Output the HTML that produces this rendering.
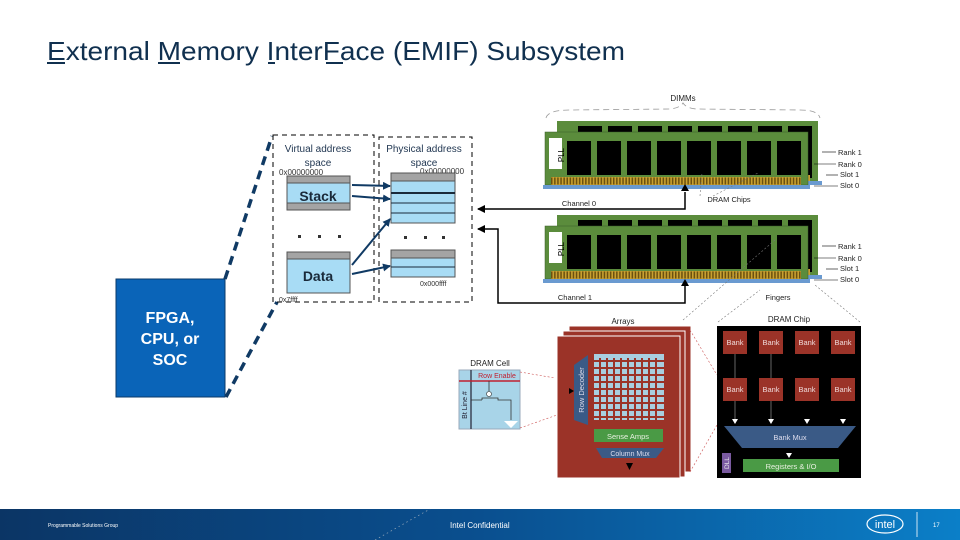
<!DOCTYPE html>
<html><head><meta charset="utf-8"><style>
html,body{margin:0;padding:0;background:#fff}
svg{display:block}
text{font-family:"Liberation Sans",sans-serif}
</style></head><body>
<svg width="960" height="540" viewBox="0 0 960 540" xmlns="http://www.w3.org/2000/svg">
<defs>
<linearGradient id="ft" x1="0" x2="1" y1="0" y2="0">
<stop offset="0" stop-color="#0b3565"/><stop offset="0.5" stop-color="#0a4f8f"/><stop offset="1" stop-color="#0b7fc8"/>
</linearGradient>
<marker id="ah" markerWidth="8" markerHeight="8" refX="7" refY="4" orient="auto" markerUnits="userSpaceOnUse"><path d="M0,0 L8,4 L0,8z" fill="#000"/></marker>
<marker id="ab" markerWidth="8" markerHeight="8" refX="7" refY="4" orient="auto" markerUnits="userSpaceOnUse"><path d="M0,0 L8,4 L0,8z" fill="#103a64"/></marker>
</defs>
<!-- title -->
<text x="47" y="60" font-size="26" fill="#10304f" textLength="578" lengthAdjust="spacingAndGlyphs">External Memory InterFace (EMIF) Subsystem</text>
<g stroke="#10304f" stroke-width="2"><line x1="47" y1="63" x2="65" y2="63"/><line x1="158" y1="63" x2="180" y2="63"/><line x1="268" y1="63" x2="275" y2="63"/><line x1="326" y1="63" x2="343" y2="63"/></g>

<!-- FPGA -->
<rect x="116" y="279" width="109" height="118" fill="#0a64b8" stroke="#0a3a6a"/>
<text x="170" y="323" font-size="16" font-weight="bold" fill="#fff" text-anchor="middle">FPGA,</text>
<text x="170" y="344" font-size="16" font-weight="bold" fill="#fff" text-anchor="middle">CPU, or</text>
<text x="170" y="365" font-size="16" font-weight="bold" fill="#fff" text-anchor="middle">SOC</text>
<g stroke="#103a64" stroke-width="3.5" stroke-dasharray="9,6"><line x1="225" y1="279" x2="272" y2="136"/><line x1="226" y1="397" x2="277" y2="302"/></g>

<!-- address spaces -->
<rect x="273" y="135" width="101" height="167" fill="none" stroke="#000" stroke-dasharray="5,4"/>
<rect x="379" y="137" width="93" height="165" fill="none" stroke="#000" stroke-dasharray="5,4"/>
<text x="318" y="152" font-size="10" fill="#1f3550" text-anchor="middle">Virtual address</text>
<text x="318" y="166" font-size="10" fill="#1f3550" text-anchor="middle">space</text>
<text x="424" y="152" font-size="10" fill="#1f3550" text-anchor="middle">Physical address</text>
<text x="424" y="166" font-size="10" fill="#1f3550" text-anchor="middle">space</text>
<text x="279" y="175" font-size="8" fill="#333">0x00000000</text>
<text x="420" y="174" font-size="8" fill="#333">0x00000000</text>
<text x="420" y="286" font-size="7" fill="#333">0x000ffff</text>
<text x="279" y="302" font-size="7" fill="#333">0x7ffff</text>
<rect x="287" y="176" width="63" height="34" fill="#a8dcf5" stroke="#555"/>
<rect x="287" y="176" width="63" height="7" fill="#a4a4a4" stroke="#555"/>
<rect x="287" y="203" width="63" height="7" fill="#a4a4a4" stroke="#555"/>
<text x="318" y="201" font-size="14" font-weight="bold" fill="#1a2a3a" text-anchor="middle">Stack</text>
<rect x="287" y="252" width="63" height="41" fill="#a8dcf5" stroke="#555"/>
<rect x="287" y="252" width="63" height="7" fill="#a4a4a4" stroke="#555"/>
<text x="318" y="281" font-size="14" font-weight="bold" fill="#1a2a3a" text-anchor="middle">Data</text>
<g fill="#333"><rect x="298" y="235" width="3" height="3"/><rect x="318" y="235" width="3" height="3"/><rect x="338" y="235" width="3" height="3"/><rect x="404" y="236" width="3" height="3"/><rect x="424" y="236" width="3" height="3"/><rect x="442" y="236" width="3" height="3"/></g>
<rect x="391" y="173" width="64" height="50" fill="#a8dcf5" stroke="#555"/>
<rect x="391" y="173" width="64" height="8" fill="#a4a4a4" stroke="#555"/>
<g stroke="#1a2a3a"><line x1="391" y1="193" x2="455" y2="193" stroke-width="2"/><line x1="391" y1="203" x2="455" y2="203"/><line x1="391" y1="213" x2="455" y2="213"/></g>
<rect x="391" y="250" width="64" height="27" fill="#a8dcf5" stroke="#555"/>
<rect x="391" y="250" width="64" height="8" fill="#a4a4a4" stroke="#555"/>
<line x1="391" y1="267" x2="455" y2="267" stroke="#1a2a3a"/>
<g stroke="#103a64" stroke-width="2" marker-end="url(#ab)"><line x1="352" y1="185" x2="390" y2="186"/><line x1="352" y1="196" x2="390" y2="199"/><line x1="352" y1="265" x2="390" y2="219"/><line x1="352" y1="274" x2="390" y2="266"/></g>

<!-- DIMMs -->
<text x="683" y="101" font-size="8" fill="#222" text-anchor="middle">DIMMs</text>
<path d="M546,118 Q548,110 570,110 L670,109 Q680,108 683,103 Q686,108 696,109 L800,110 Q818,110 820,118" fill="none" stroke="#999" stroke-dasharray="6,4" stroke-width="0.8"/>
<g id="dimm">
<rect x="557" y="121" width="261" height="60" fill="#5b8c3c"/>
<g fill="#000"><rect x="578" y="126" width="24" height="6"/><rect x="608" y="126" width="24" height="6"/><rect x="638" y="126" width="24" height="6"/><rect x="668" y="126" width="24" height="6"/><rect x="698" y="126" width="24" height="6"/><rect x="728" y="126" width="24" height="6"/><rect x="758" y="126" width="24" height="6"/><rect x="788" y="126" width="24" height="52"/></g>
<rect x="800" y="175" width="10" height="9" fill="#c8a030"/>
<rect x="808" y="181" width="14" height="4" fill="#6a9ad0"/>
<rect x="545" y="132" width="263" height="53" fill="#5b8c3c" stroke="#3a5a28" stroke-width="0.5"/>
<rect x="549" y="138" width="13" height="31" fill="#fff"/>
<text x="559" y="160" font-size="8" fill="#000" transform="rotate(-90 559 155)" text-anchor="middle">PLL</text>
<g fill="#000"><rect x="567" y="141" width="24" height="34"/><rect x="597" y="141" width="24" height="34"/><rect x="627" y="141" width="24" height="34"/><rect x="657" y="141" width="24" height="34"/><rect x="687" y="141" width="24" height="34"/><rect x="717" y="141" width="24" height="34"/><rect x="747" y="141" width="24" height="34"/><rect x="777" y="141" width="24" height="34"/></g>
<rect x="551" y="177" width="250" height="8" fill="#c8a030"/>
<g stroke="#6b5010" stroke-width="1.1" stroke-dasharray="1.5,1.6"><line x1="551" y1="181" x2="801" y2="181" stroke-width="7"/></g>
<rect x="543" y="185" width="267" height="4" fill="#6a9ad0"/>
<g font-size="7.5" fill="#222"><text x="838" y="155">Rank 1</text><text x="838" y="167">Rank 0</text><text x="840" y="177">Slot 1</text><text x="840" y="188">Slot 0</text></g>
<g stroke="#000" stroke-width="0.6"><line x1="822" y1="152" x2="836" y2="152"/><line x1="814" y1="164" x2="836" y2="164"/><line x1="826" y1="175" x2="838" y2="175"/><line x1="814" y1="186" x2="838" y2="186"/></g>
</g>
<use href="#dimm" y="94"/>
<text x="579" y="206" font-size="7.5" fill="#222" text-anchor="middle">Channel 0</text>
<text x="729" y="202" font-size="7.5" fill="#222" text-anchor="middle">DRAM Chips</text>
<text x="575" y="300" font-size="7.5" fill="#222" text-anchor="middle">Channel 1</text>
<text x="778" y="300" font-size="7.5" fill="#222" text-anchor="middle">Fingers</text>
<g stroke="#777" stroke-width="0.6" stroke-dasharray="2,2"><line x1="700" y1="196" x2="702" y2="173"/><line x1="713" y1="196" x2="758" y2="173"/><line x1="683" y1="320" x2="775" y2="240"/><line x1="718" y1="322" x2="760" y2="290"/><line x1="860" y1="322" x2="815" y2="285"/></g>
<g stroke="#000" stroke-width="1.5" fill="none"><path d="M685,192 L685,209 L478,209" marker-end="url(#ah)"/><path d="M685,286 L685,303 L498,303 L498,229 L478,229" marker-end="url(#ah)"/></g>
<path d="M681,191 L685,184 L689,191z M681,286 L685,279 L689,286z"/>

<!-- arrays -->
<text x="623" y="324" font-size="8" fill="#222" text-anchor="middle">Arrays</text>
<rect x="569" y="326" width="122" height="146" fill="#9b3328" stroke="#fff"/>
<rect x="563" y="331" width="122" height="146" fill="#9b3328" stroke="#fff"/>
<rect x="557" y="336" width="123" height="142" fill="#9b3328" stroke="#fff"/>
<rect x="594" y="354" width="70" height="66" fill="#a8cfe0"/>
<g stroke="#9b3328" stroke-width="2">
<line x1="600" y1="358" x2="600" y2="424"/><line x1="607" y1="358" x2="607" y2="424"/><line x1="614" y1="358" x2="614" y2="424"/><line x1="621" y1="358" x2="621" y2="424"/><line x1="628" y1="358" x2="628" y2="424"/><line x1="635" y1="358" x2="635" y2="424"/><line x1="642" y1="358" x2="642" y2="424"/><line x1="649" y1="358" x2="649" y2="424"/><line x1="656" y1="358" x2="656" y2="424"/>
<line x1="588" y1="361" x2="664" y2="361"/><line x1="588" y1="368" x2="664" y2="368"/><line x1="588" y1="375" x2="664" y2="375"/><line x1="588" y1="382" x2="664" y2="382"/><line x1="588" y1="389" x2="664" y2="389"/><line x1="588" y1="396" x2="664" y2="396"/><line x1="588" y1="403" x2="664" y2="403"/><line x1="588" y1="410" x2="664" y2="410"/><line x1="588" y1="417" x2="664" y2="417"/></g>
<path d="M574,365 L588,355 L588,425 L574,420z" fill="#3a5a86"/>
<text x="584" y="390" font-size="7.5" fill="#dde" text-anchor="middle" transform="rotate(-90 584 390)">Row Decoder</text>
<path d="M569,388 L574,391 L569,394z" fill="#000"/>
<rect x="594" y="429" width="69" height="13" fill="#4a9a45"/>
<text x="628" y="439" font-size="7.5" fill="#e8f0e0" text-anchor="middle">Sense Amps</text>
<path d="M596,448 L664,448 L656,458 L602,458z" fill="#3a5a86"/>
<text x="630" y="456" font-size="7" fill="#dde" text-anchor="middle">Column Mux</text>
<path d="M626,463 L633,463 L629.5,470z" fill="#000"/>

<!-- DRAM cell -->
<text x="490" y="366" font-size="8" fill="#222" text-anchor="middle">DRAM Cell</text>
<rect x="459" y="370" width="61" height="59" fill="#a8d4e8" stroke="#9ab"/>
<line x1="471" y1="370" x2="471" y2="429" stroke="#223" stroke-width="1.2"/>
<line x1="459" y1="381" x2="520" y2="381" stroke="#c02030" stroke-width="1.5"/>
<text x="497" y="378" font-size="7" fill="#c02030" text-anchor="middle">Row Enable</text>
<text x="467" y="405" font-size="7" fill="#223" text-anchor="middle" transform="rotate(-90 467 405)">Bt Line #</text>
<path d="M489,381 L489,392 M482,400 L482,398 L498,398 L498,400 L511,400 L511,420 M471,400 L482,400" stroke="#333" fill="none" stroke-width="0.8"/>
<circle cx="489" cy="394" r="2.5" fill="#fff" stroke="#333" stroke-width="0.6"/>
<path d="M504,421 L518,421 L511,428z" fill="#fff"/>
<g stroke="#c55" stroke-width="0.6" stroke-dasharray="2,2"><line x1="520" y1="372" x2="555" y2="378"/><line x1="520" y1="428" x2="557" y2="415"/><line x1="690" y1="330" x2="717" y2="375"/><line x1="690" y1="472" x2="717" y2="425"/></g>

<!-- DRAM chip -->
<rect x="717" y="326" width="144" height="152" fill="#000"/>
<text x="789" y="322" font-size="8" fill="#222" text-anchor="middle">DRAM Chip</text>
<g fill="#9b3328"><rect x="723" y="331" width="24" height="23"/><rect x="759" y="331" width="24" height="23"/><rect x="795" y="331" width="24" height="23"/><rect x="831" y="331" width="24" height="23"/><rect x="723" y="378" width="24" height="23"/><rect x="759" y="378" width="24" height="23"/><rect x="795" y="378" width="24" height="23"/><rect x="831" y="378" width="24" height="23"/></g>
<g font-size="7.5" fill="#f0dada" text-anchor="middle"><text x="735" y="345">Bank</text><text x="771" y="345">Bank</text><text x="807" y="345">Bank</text><text x="843" y="345">Bank</text><text x="735" y="392">Bank</text><text x="771" y="392">Bank</text><text x="807" y="392">Bank</text><text x="843" y="392">Bank</text></g>
<g stroke="#aaa" stroke-width="0.6"><line x1="735" y1="354" x2="735" y2="378"/><line x1="771" y1="354" x2="771" y2="378"/><line x1="735" y1="401" x2="735" y2="419"/><line x1="771" y1="401" x2="771" y2="419"/></g>
<g fill="#fff"><path d="M732,419 L738,419 L735,424z"/><path d="M768,419 L774,419 L771,424z"/><path d="M804,419 L810,419 L807,424z"/><path d="M840,419 L846,419 L843,424z"/><path d="M786,453 L792,453 L789,458z"/></g>
<path d="M724,426 L856,426 L838,448 L742,448z" fill="#3a5a86"/>
<text x="790" y="440" font-size="7.5" fill="#dde" text-anchor="middle">Bank Mux</text>
<rect x="722" y="453" width="9" height="20" fill="#7a5aa0"/>
<text x="729" y="463" font-size="6.5" fill="#eee" text-anchor="middle" transform="rotate(-90 729 463)">DLL</text>
<rect x="743" y="459" width="96" height="13" fill="#4a9a45"/>
<text x="791" y="469" font-size="7.5" fill="#e8f0e0" text-anchor="middle">Registers &amp; I/O</text>

<!-- footer -->
<rect x="0" y="509" width="960" height="31" fill="url(#ft)"/>
<text x="48" y="527" font-size="5" fill="#fff">Programmable Solutions Group</text>
<text x="450" y="528" font-size="8" fill="#fff">Intel Confidential</text>
<line x1="375" y1="540" x2="430" y2="509" stroke="#9ab" stroke-width="0.7" stroke-dasharray="1.5,3"/>
<ellipse cx="885" cy="524" rx="18" ry="9" fill="none" stroke="#fff" stroke-width="1.2"/>
<text x="885" y="528" font-size="11" fill="#fff" text-anchor="middle">intel</text>
<line x1="917" y1="512" x2="917" y2="537" stroke="#fff" stroke-width="0.8"/>
<text x="933" y="527" font-size="6" fill="#fff">17</text>
</svg>
</body></html>
